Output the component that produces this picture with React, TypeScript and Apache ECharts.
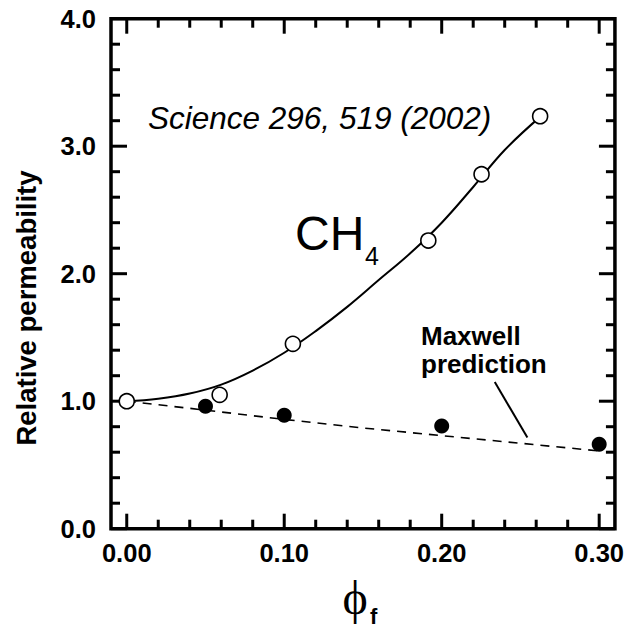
import React, { useEffect, useRef } from "react";
import * as echarts from "echarts";

// ---- data ----
const xMajorTicks = [0, 0.1, 0.2, 0.3];
const xMinorTicks = [0.02, 0.04, 0.06, 0.08, 0.12, 0.14, 0.16, 0.18, 0.22, 0.24, 0.26, 0.28];
const yMajorTicks = [0, 1, 2, 3, 4];
const yMinorTicks = [0.2, 0.4, 0.6, 0.8, 1.2, 1.4, 1.6, 1.8, 2.2, 2.4, 2.6, 2.8, 3.2, 3.4, 3.6, 3.8];

// CH4 measured (open circles)
const ch4X = [0, 0.059, 0.1055, 0.1915, 0.2253, 0.2625];
const ch4Y = [1.0, 1.05, 1.45, 2.26, 2.78, 3.235];

// Filled circles (measured, lower)
const filledX = [0.05, 0.1, 0.2, 0.3];
const filledY = [0.96, 0.89, 0.805, 0.662];

// Fitted curve through CH4 data
const fitX = [0, 0.02, 0.04, 0.06, 0.08, 0.1, 0.12, 0.14, 0.16, 0.18, 0.2, 0.22, 0.24, 0.2625];
const fitY = [1.0, 1.02, 1.06, 1.13, 1.24, 1.38, 1.55, 1.74, 1.95, 2.16, 2.4, 2.68, 2.97, 3.23];

// Maxwell prediction (dashed)
const maxwellX = [0, 0.05, 0.1, 0.15, 0.2, 0.25, 0.3];
const maxwellY = [1.0, 0.93, 0.857, 0.79, 0.73, 0.67, 0.61];

// Pointer from "prediction" label to the dashed curve
const pointerX = [0.2337, 0.2544];
const pointerY = [1.15, 0.715];

const zip = (xs: number[], ys: number[]) => xs.map((x, i) => [x, ys[i]]);

export default function App() {
  const ref = useRef<HTMLDivElement>(null);

  useEffect(() => {
    if (!ref.current) return;
    const chart = echarts.init(ref.current, undefined, { renderer: "svg" });

    const XMIN = -0.01;
    const XMAX = 0.31;
    const YMIN = 0;
    const YMAX = 4;
    const X_MAJOR_LEN = 15;
    const X_MINOR_LEN = 9;
    const Y_MAJOR_LEN = 16;
    const Y_MINOR_LEN = 9;
    const TICK_W = 3;
    const labelFont = {
      fontFamily: "Liberation Sans, Arial, sans-serif",
      fontWeight: "bold" as const,
      fontSize: 25.5,
      color: "#000",
    };

    // tick marks drawn as small rect symbols placed at the frame through the axes' scales
    const tickItems: any[] = [];
    const addX = (vals: number[], len: number) => {
      vals.forEach((v) => {
        tickItems.push({ value: [v, YMIN], symbolSize: [TICK_W, len], symbolOffset: [0, -len / 2] });
        tickItems.push({ value: [v, YMAX], symbolSize: [TICK_W, len], symbolOffset: [0, len / 2] });
      });
    };
    const addY = (vals: number[], len: number) => {
      vals.forEach((v) => {
        tickItems.push({ value: [XMIN, v], symbolSize: [len, TICK_W], symbolOffset: [len / 2, 0] });
        tickItems.push({ value: [XMAX, v], symbolSize: [len, TICK_W], symbolOffset: [-len / 2, 0] });
      });
    };
    addX(xMajorTicks, X_MAJOR_LEN);
    addX(xMinorTicks, X_MINOR_LEN);
    addY(yMajorTicks, Y_MAJOR_LEN);
    addY(yMinorTicks, Y_MINOR_LEN);

    chart.setOption({
      animation: false,
      grid: {
        left: 111,
        right: 9.5,
        top: 18.7,
        bottom: 99.3,
        show: true,
        borderColor: "#000",
        borderWidth: 3.5,
        containLabel: false,
      },
      xAxis: {
        type: "value",
        min: XMIN,
        max: XMAX,
        axisLine: { show: false, onZero: false },
        splitLine: { show: false },
        axisTick: { show: false },
        axisLabel: {
          show: true,
          customValues: xMajorTicks,
          margin: 11,
          formatter: (v: number) => v.toFixed(2),
          ...labelFont,
        },
      },
      yAxis: {
        type: "value",
        min: YMIN,
        max: YMAX,
        axisLine: { show: false, onZero: false },
        splitLine: { show: false },
        axisTick: { show: false },
        axisLabel: {
          show: true,
          customValues: yMajorTicks,
          margin: 15,
          formatter: (v: number) => v.toFixed(1),
          ...labelFont,
        },
      },
      series: [
        {
          type: "scatter",
          name: "ticks",
          data: tickItems,
          symbol: "rect",
          clip: false,
          silent: true,
          itemStyle: { color: "#000", borderWidth: 0, opacity: 1 },
          z: 3,
        },
        {
          type: "line",
          name: "Maxwell prediction",
          data: zip(maxwellX, maxwellY),
          showSymbol: false,
          symbol: "none",
          lineStyle: { color: "#000", width: 1.6, type: [9, 7] },
          z: 2,
        },
        {
          type: "line",
          name: "fit",
          data: zip(fitX, fitY),
          smooth: 0.4,
          showSymbol: false,
          symbol: "none",
          lineStyle: { color: "#000", width: 2 },
          z: 2,
        },
        {
          type: "line",
          name: "pointer",
          data: zip(pointerX, pointerY),
          showSymbol: false,
          symbol: "none",
          lineStyle: { color: "#000", width: 2 },
          z: 2,
        },
        {
          type: "scatter",
          name: "CH4",
          data: zip(ch4X, ch4Y),
          symbol: "circle",
          symbolSize: 15,
          itemStyle: { color: "#fff", borderColor: "#000", borderWidth: 1.6, opacity: 1 },
          z: 5,
        },
        {
          type: "scatter",
          name: "filled",
          data: zip(filledX, filledY),
          symbol: "circle",
          symbolSize: 15,
          itemStyle: { color: "#000", borderColor: "#000", borderWidth: 0, opacity: 1 },
          z: 5,
        },
      ],
      graphic: [
        {
          type: "text",
          x: 148,
          y: 118,
          style: {
            text: "Science 296, 519 (2002)",
            font: "italic 31.5px 'Liberation Sans', Arial, sans-serif",
            fill: "#000",
            textAlign: "left",
            textVerticalAlign: "middle",
          },
        },
        {
          type: "text",
          x: 295,
          y: 233,
          style: {
            text: "CH",
            font: "48px 'Liberation Sans', Arial, sans-serif",
            fill: "#000",
            textAlign: "left",
            textVerticalAlign: "middle",
          },
        },
        {
          type: "text",
          x: 365,
          y: 256,
          style: {
            text: "4",
            font: "25px 'Liberation Sans', Arial, sans-serif",
            fill: "#000",
            textAlign: "left",
            textVerticalAlign: "middle",
          },
        },
        {
          type: "text",
          x: 421,
          y: 336,
          style: {
            text: "Maxwell",
            font: "bold 26px 'Liberation Sans', Arial, sans-serif",
            fill: "#000",
            textAlign: "left",
            textVerticalAlign: "middle",
          },
        },
        {
          type: "text",
          x: 421,
          y: 364,
          style: {
            text: "prediction",
            font: "bold 26px 'Liberation Sans', Arial, sans-serif",
            fill: "#000",
            textAlign: "left",
            textVerticalAlign: "middle",
          },
        },
        {
          type: "text",
          x: 26,
          y: 308,
          rotation: Math.PI / 2,
          style: {
            text: "Relative permeability",
            font: "bold 27.5px 'Liberation Sans', Arial, sans-serif",
            fill: "#000",
            textAlign: "center",
            textVerticalAlign: "middle",
          },
        },
        {
          type: "text",
          x: 355,
          y: 597,
          style: {
            text: "\u03D5",
            font: "48px 'Liberation Serif', 'DejaVu Serif', serif",
            fill: "#000",
            textAlign: "center",
            textVerticalAlign: "middle",
          },
        },
        {
          type: "text",
          x: 370,
          y: 616,
          style: {
            text: "f",
            font: "bold 22px 'Liberation Sans', Arial, sans-serif",
            fill: "#000",
            textAlign: "left",
            textVerticalAlign: "middle",
          },
        },
      ],
    });

    return () => chart.dispose();
  }, []);

  return <div ref={ref} style={{ width: 627, height: 628, position: "absolute", left: 0, top: 0 }} />;
}
